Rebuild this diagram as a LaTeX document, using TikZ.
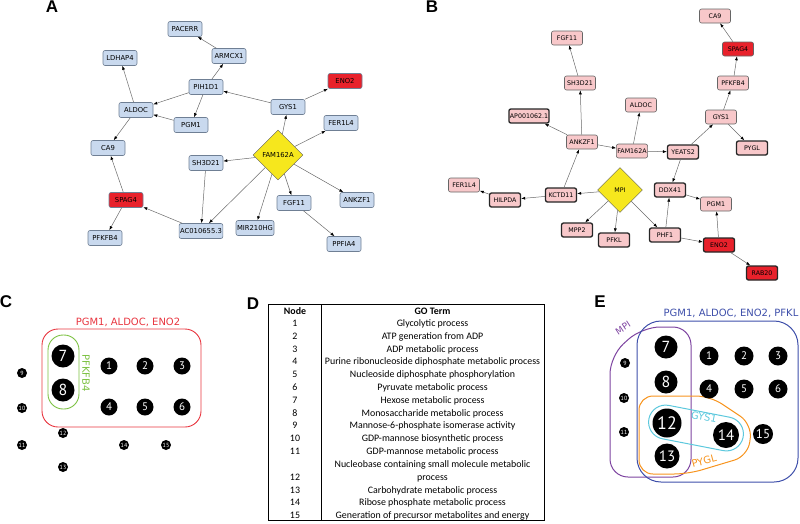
\documentclass[tikz,border=0pt]{standalone}
\usepackage{fontspec}
\setmainfont{DejaVu Sans}
\newfontfamily\tabfont{Carlito}
\newfontfamily\headfont{Liberation Sans}
\newfontfamily\numfont{PT Sans}
\usetikzlibrary{shapes.geometric, arrows.meta}

\definecolor{nodeblue}{HTML}{C9D9EE}
\definecolor{nodeline}{HTML}{6F7F94}
\definecolor{hitred}{HTML}{E8212B}
\definecolor{hubyellow}{HTML}{F6E71D}
\definecolor{nodepink}{HTML}{F8C8CA}
\definecolor{edgegray}{HTML}{6A6A6A}
\definecolor{setred}{HTML}{E8353F}
\definecolor{setgreen}{HTML}{7CC142}
\definecolor{setblue}{HTML}{3E4FAA}
\definecolor{setpurple}{HTML}{7D43A0}
\definecolor{setorange}{HTML}{F7941E}
\definecolor{setcyan}{HTML}{5CC8DD}

\begin{document}
\begin{tikzpicture}[
        x=1pt, y=-1pt,
        every node/.style={font=\fontsize{6.8}{8}\selectfont, align=center},
        gene/.style={rectangle, draw=nodeline, fill=nodeblue, line width=0.6pt, rounded corners=2pt, minimum width=34pt, minimum height=15pt, inner xsep=1pt, inner ysep=0pt},
        hit/.style={gene, fill=hitred},
        pgene/.style={gene, draw=gray!80!black, fill=nodepink, minimum width=31pt, minimum height=14pt, font=\fontsize{6.3}{7}\selectfont},
        pkey/.style={pgene, draw=black!85, line width=1.3pt},
        hub/.style={diamond, draw=gray!70!black, fill=hubyellow, inner sep=0pt, minimum width=50pt, minimum height=50pt},
        arr/.style={-{Latex[length=4pt, width=3pt, color=black]}, draw=edgegray, line width=0.5pt},
        panel/.style={font=\headfont\bfseries\fontsize{17}{17}\selectfont, inner sep=0pt},
        setlab/.style={font=\fontsize{10}{10}\selectfont, inner sep=0pt},
        dot/.style={circle, fill=black, text=white, inner sep=0pt},
        tinydot/.style={dot, minimum size=10pt, font=\numfont\fontsize{6}{6}\selectfont},
        middot/.style={dot, minimum size=17pt, font=\numfont\fontsize{11}{11}\selectfont},
        bigdot/.style={dot, minimum size=23pt, font=\numfont\fontsize{16}{16}\selectfont},
        tnum/.style={font=\tabfont\fontsize{9.9}{11}\selectfont, text height=6.8pt, text depth=2pt, inner sep=0pt},
        tterm/.style={tnum},
        thead/.style={tnum, font=\tabfont\bfseries\fontsize{9.9}{11}\selectfont}
    ]
    \useasboundingbox (0,0) rectangle (800,523);

    % panel letters
    \node[panel] (labA) at (52,7)   {A};
    \node[panel] (labB) at (432,7)  {B};
    \node[panel] (labC) at (6,302)  {C};
    \node[panel] (labD) at (253,304) {D};
    \node[panel] (labE) at (600,302) {E};

    % A: network around FAM162A
    \node[gene] (a-pacerr)   at (185,29)  {PACERR};
    \node[gene] (a-armcx1)   at (229,56)  {ARMCX1};
    \node[gene] (a-ldhap4)   at (120,58)  {LDHAP4};
    \node[gene] (a-pih1d1)   at (206,87)  {PIH1D1};
    \node[hit]  (a-eno2)     at (345,81)  {ENO2};
    \node[gene] (a-aldoc)    at (136,110) {ALDOC};
    \node[gene] (a-pgm1)     at (191,125) {PGM1};
    \node[gene] (a-gys1)     at (288,107) {GYS1};
    \node[gene] (a-fer1l4)   at (341,123) {FER1L4};
    \node[hub]  (a-fam162a)  at (278,155) {FAM162A};
    \node[gene] (a-ca9)      at (108,148) {CA9};
    \node[gene] (a-sh3d21)   at (206,163) {SH3D21};
    \node[hit]  (a-spag4)    at (126,200) {SPAG4};
    \node[gene] (a-ankzf1)   at (357,200) {ANKZF1};
    \node[gene] (a-fgf11)    at (294,203) {FGF11};
    \node[gene] (a-pfkfb4)   at (105,238) {PFKFB4};
    \node[gene] (a-ac010655) at (201,231) {AC010655.3};
    \node[gene] (a-mir210hg) at (255,228) {MIR210HG};
    \node[gene] (a-ppfia4)   at (344,244) {PPFIA4};
    \draw[arr] (a-armcx1)  -- (a-pacerr);
    \draw[arr] (a-pih1d1)  -- (a-armcx1);
    \draw[arr] (a-aldoc)   -- (a-ldhap4);
    \draw[arr] (a-pih1d1)  -- (a-aldoc);
    \draw[arr] (a-pih1d1)  -- (a-pgm1);
    \draw[arr] (a-pgm1)    -- (a-aldoc);
    \draw[arr] (a-aldoc)   -- (a-ca9);
    \draw[arr] (a-gys1)    -- (a-pih1d1);
    \draw[arr] (a-gys1)    -- (a-eno2);
    \draw[arr] (a-fam162a) -- (a-gys1);
    \draw[arr] (a-fam162a) -- (a-fer1l4);
    \draw[arr] (a-fam162a) -- (a-sh3d21);
    \draw[arr] (a-fam162a) -- (a-ac010655);
    \draw[arr] (a-fam162a) -- (a-mir210hg);
    \draw[arr] (a-fam162a) -- (a-fgf11);
    \draw[arr] (a-fam162a) -- (a-ankzf1);
    \draw[arr] (a-fgf11)   -- (a-ppfia4);
    \draw[arr] (a-sh3d21)  -- (a-ac010655);
    \draw[arr] (a-ac010655) -- (a-spag4);
    \draw[arr] (a-spag4)   -- (a-ca9);
    \draw[arr] (a-spag4)   -- (a-pfkfb4);

    % B: network around MPI
    \node[pgene] (b-fgf11)    at (567,38)  {FGF11};
    \node[pgene] (b-sh3d21)   at (580,83)  {SH3D21};
    \node[pkey]  (b-ap001062) at (529,116) {AP001062.1};
    \node[pgene] (b-ankzf1)   at (582,142) {ANKZF1};
    \node[pgene] (b-ca9)      at (715,16)  {CA9};
    \node[pgene, fill=hitred] (b-spag4) at (738,49) {SPAG4};
    \node[pgene] (b-pfkfb4)   at (733,83)  {PFKFB4};
    \node[pgene] (b-aldoc)    at (641,105) {ALDOC};
    \node[pgene] (b-gys1)     at (721,117) {GYS1};
    \node[pgene] (b-fam162a)  at (632,151) {FAM162A};
    \node[pkey]  (b-yeats2)   at (683,152) {YEATS2};
    \node[pkey]  (b-pygl)     at (752,148) {PYGL};
    \node[pgene] (b-fer1l4)   at (464,185) {FER1L4};
    \node[pkey]  (b-hilpda)   at (505,200) {HILPDA};
    \node[pkey]  (b-kctd11)   at (561,195) {KCTD11};
    \node[hub, minimum width=45pt, minimum height=45pt, font=\fontsize{6.3}{7}\selectfont] (b-mpi) at (620,190) {MPI};
    \node[pkey]  (b-ddx41)    at (670,190) {DDX41};
    \node[pgene] (b-pgm1)     at (716,204) {PGM1};
    \node[pkey]  (b-mpp2)     at (577,230) {MPP2};
    \node[pkey]  (b-pfkl)     at (614,240) {PFKL};
    \node[pkey]  (b-phf1)     at (665,235) {PHF1};
    \node[pkey, fill=hitred] (b-eno2)  at (719,245) {ENO2};
    \node[pkey, fill=hitred] (b-rab20) at (762,273) {RAB20};
    \draw[arr] (b-sh3d21)  -- (b-fgf11);
    \draw[arr] (b-ankzf1)  -- (b-sh3d21);
    \draw[arr] (b-ankzf1)  -- (b-ap001062);
    \draw[arr] (b-ankzf1)  -- (b-fam162a);
    \draw[arr] (b-fam162a) -- (b-aldoc);
    \draw[arr] (b-fam162a) -- (b-yeats2);
    \draw[arr] (b-yeats2)  -- (b-gys1);
    \draw[arr] (b-gys1)    -- (b-pfkfb4);
    \draw[arr] (b-pfkfb4)  -- (b-spag4);
    \draw[arr] (b-spag4)   -- (b-ca9);
    \draw[arr] (b-gys1)    -- (b-pygl);
    \draw[arr] (b-yeats2)  -- (b-ddx41);
    \draw[arr] (b-ddx41)   -- (b-pgm1);
    \draw[arr] (b-phf1)    -- (b-ddx41);
    \draw[arr] (b-phf1)    -- (b-eno2);
    \draw[arr] (b-eno2)    -- (b-pgm1);
    \draw[arr] (b-eno2)    -- (b-rab20);
    \draw[arr] (b-mpi)     -- (b-kctd11);
    \draw[arr] (b-mpi)     -- (b-mpp2);
    \draw[arr] (b-mpi)     -- (b-pfkl);
    \draw[arr] (b-mpi)     -- (b-phf1);
    \draw[arr] (b-kctd11)  -- (b-ankzf1);
    \draw[arr] (b-kctd11)  -- (b-hilpda);
    \draw[arr] (b-hilpda)  -- (b-fer1l4);

    % C: GO term sets
    \draw[setred, line width=0.9pt, rounded corners=16pt] (42,329) rectangle (201,427);
    \draw[setgreen, line width=0.9pt, rounded corners=15pt] (48,335) rectangle (79,409);
    \node[setlab, text=setred] (c-lab) at (128,322) {PGM1, ALDOC, ENO2};
    \node[setlab, text=setgreen, rotate=-90] (c-pfk) at (86,373) {PFKFB4};
    \node[bigdot]  (c7)  at (63,356)  {7};
    \node[bigdot]  (c8)  at (63,390)  {8};
    \node[middot]  (c1)  at (109,366) {1};
    \node[middot]  (c2)  at (145,366) {2};
    \node[middot]  (c3)  at (182,366) {3};
    \node[middot]  (c4)  at (109,407) {4};
    \node[middot]  (c5)  at (145,407) {5};
    \node[middot]  (c6)  at (182,407) {6};
    \node[tinydot] (c9)  at (22,373)  {9};
    \node[tinydot] (c10) at (22,408)  {10};
    \node[tinydot] (c11) at (22,445)  {11};
    \node[tinydot] (c12) at (63,433)  {12};
    \node[tinydot] (c13) at (63,467)  {13};
    \node[tinydot] (c14) at (124,445) {14};
    \node[tinydot] (c15) at (166,445) {15};

    % D: table of GO terms
    \draw[line width=0.8pt] (268,304) rectangle (544,520);
    \draw[line width=0.8pt] (321,304) -- (321,520);
    \node[thead] (d-hnode) at (295,312) {Node};
    \node[thead] (d-hterm) at (432.5,312) {GO Term};
    \node[tnum] (d-n1)  at (295,324.5) {1};
    \node[tterm] (d-t1) at (432.5,324.5) {Glycolytic process};
    \node[tnum] (d-n2)  at (295,337.5) {2};
    \node[tterm] (d-t2) at (432.5,337.5) {ATP generation from ADP};
    \node[tnum] (d-n3)  at (295,350) {3};
    \node[tterm] (d-t3) at (432.5,350) {ADP metabolic process};
    \node[tnum] (d-n4)  at (295,362.5) {4};
    \node[tterm] (d-t4) at (432.5,362.5) {Purine ribonucleoside diphosphate metabolic process};
    \node[tnum] (d-n5)  at (295,375.5) {5};
    \node[tterm] (d-t5) at (432.5,375.5) {Nucleoside diphosphate phosphorylation};
    \node[tnum] (d-n6)  at (295,388.5) {6};
    \node[tterm] (d-t6) at (432.5,388.5) {Pyruvate metabolic process};
    \node[tnum] (d-n7)  at (295,401) {7};
    \node[tterm] (d-t7) at (432.5,401) {Hexose metabolic process};
    \node[tnum] (d-n8)  at (295,414) {8};
    \node[tterm] (d-t8) at (432.5,414) {Monosaccharide metabolic process};
    \node[tnum] (d-n9)  at (295,426.5) {9};
    \node[tterm] (d-t9) at (432.5,426.5) {Mannose-6-phosphate isomerase activity};
    \node[tnum] (d-n10)  at (295,439.5) {10};
    \node[tterm] (d-t10) at (432.5,439.5) {GDP-mannose biosynthetic process};
    \node[tnum] (d-n11)  at (295,452.5) {11};
    \node[tterm] (d-t11) at (432.5,452.5) {GDP-mannose metabolic process};
    \node[tterm] (d-t12a) at (432.5,465.5) {Nucleobase containing small molecule metabolic};
    \node[tnum] (d-n12)  at (295,478) {12};
    \node[tterm] (d-t12b) at (432.5,478) {process};
    \node[tnum] (d-n13)  at (295,491) {13};
    \node[tterm] (d-t13) at (432.5,491) {Carbohydrate metabolic process};
    \node[tnum] (d-n14)  at (295,503.5) {14};
    \node[tterm] (d-t14) at (432.5,503.5) {Ribose phosphate metabolic process};
    \node[tnum] (d-n15)  at (295,516) {15};
    \node[tterm] (d-t15) at (432.5,516) {Generation of precursor metabolites and energy};

    % E: GO term sets
    \draw[setpurple, line width=1pt, rounded corners=18pt] (610,440) -- (610,356) -- (642,327) -- (691,327) -- (691,477) -- (610,477) -- cycle;
    \draw[setblue, line width=1pt, rounded corners=24pt] (637,321) rectangle (798,482);
    \draw[setorange, line width=1pt, rounded corners=14pt] (639,440) -- (639,396) -- (710,396) -- (752,424) -- (748,456) -- (688,474) -- (639,474) -- cycle;
    \draw[setcyan, line width=1pt, rounded corners=17pt, rotate around={-11:(696,428)}] (648,411) rectangle (744,445);
    \node[setlab, text=setblue] (e-lab) at (731,313) {PGM1, ALDOC, ENO2, PFKL};
    \node[setlab, text=setpurple, rotate=33, font=\fontsize{9}{9}\selectfont] (e-mpi) at (623,328) {MPI};
    \node[setlab, text=setcyan, rotate=-11] (e-gyslab) at (704,417) {GYS1};
    \node[setlab, text=setorange, rotate=15] (e-pygl) at (704,461) {PYGL};
    \node[bigdot] (e7)  at (666,347) {7};
    \node[bigdot] (e8)  at (666,382) {8};
    \node[dot, minimum size=29pt, font=\numfont\fontsize{18}{18}\selectfont] (e12) at (667,423) {12};
    \node[dot, minimum size=25pt, font=\numfont\fontsize{15}{15}\selectfont] (e13) at (667,456) {13};
    \node[dot, minimum size=26pt, font=\numfont\fontsize{15}{15}\selectfont] (e14) at (726,435) {14};
    \node[dot, minimum size=20pt, font=\numfont\fontsize{13}{13}\selectfont] (e15) at (763,434) {15};
    \node[middot, minimum size=19pt] (e1) at (709,356) {1};
    \node[middot, minimum size=19pt] (e2) at (744,356) {2};
    \node[middot, minimum size=19pt] (e3) at (778,356) {3};
    \node[middot, minimum size=19pt] (e4) at (709,389) {4};
    \node[middot, minimum size=19pt] (e5) at (744,389) {5};
    \node[middot, minimum size=19pt] (e6) at (778,389) {6};
    \node[tinydot] (e9)  at (625,363) {9};
    \node[tinydot] (e10) at (624,398) {10};
    \node[tinydot] (e11) at (624,432) {11};
    \end{tikzpicture}
\end{document}
